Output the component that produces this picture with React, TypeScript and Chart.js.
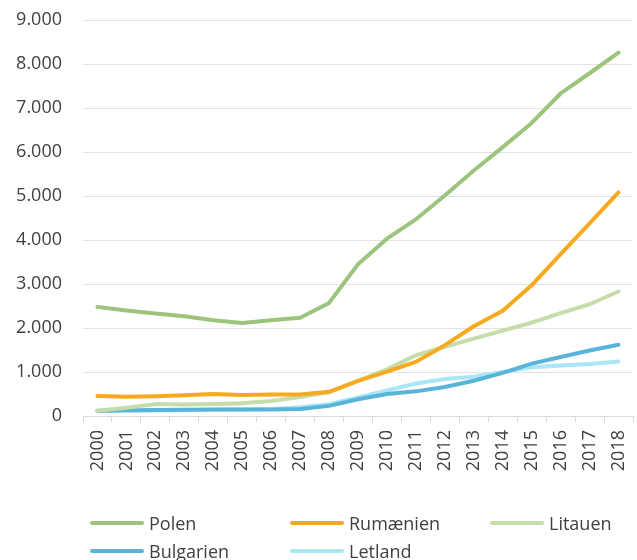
import React, { useEffect, useRef } from "react";
import { Chart, registerables } from "chart.js";

Chart.register(...registerables);

const years = ["2000","2001","2002","2003","2004","2005","2006","2007","2008","2009","2010","2011","2012","2013","2014","2015","2016","2017","2018"];
const polen = [2480, 2400, 2330, 2265, 2175, 2115, 2175, 2235, 2570, 3450, 4030, 4470, 5010, 5580, 6110, 6660, 7330, 7790, 8260];
const rumaenien = [455, 440, 450, 470, 500, 480, 490, 490, 550, 800, 1010, 1230, 1610, 2040, 2390, 2970, 3680, 4380, 5080];
const litauen = [120, 190, 270, 260, 270, 290, 340, 430, 540, 800, 1060, 1380, 1570, 1760, 1940, 2120, 2340, 2540, 2830];
const bulgarien = [120, 130, 135, 140, 145, 150, 150, 160, 230, 380, 500, 560, 660, 800, 980, 1190, 1340, 1490, 1620];
const letland = [110, 120, 125, 130, 140, 150, 160, 200, 270, 420, 580, 740, 840, 890, 1000, 1110, 1150, 1180, 1240];
const yTicks = [0, 1000, 2000, 3000, 4000, 5000, 6000, 7000, 8000, 9000];

const series = [
  { label: "Polen", data: polen, color: "#9dc47d" },
  { label: "Rumænien", data: rumaenien, color: "#f5aa1f" },
  { label: "Litauen", data: litauen, color: "#c6dcab" },
  { label: "Bulgarien", data: bulgarien, color: "#5ab4d9" },
  { label: "Letland", data: letland, color: "#a9e6f7" },
];

const FONT = "'Open Sans', 'Noto Sans', sans-serif";
const TEXT = "#404040";

function fmt(v: number): string {
  return String(v).replace(/\B(?=(\d{3})+(?!\d))/g, ".");
}

const legendPos = [
  { x: 90, y: 523 },
  { x: 290, y: 523 },
  { x: 490, y: 523 },
  { x: 90, y: 551 },
  { x: 290, y: 551 },
];

export default function App() {
  const ref = useRef<HTMLCanvasElement | null>(null);
  useEffect(() => {
    if (!ref.current) return;
    const chart = new Chart(ref.current, {
      type: "line",
      data: {
        labels: years,
        datasets: series.map((s) => ({
          label: s.label,
          data: s.data,
          borderColor: s.color,
          backgroundColor: s.color,
          borderWidth: 4,
          pointRadius: 0,
          tension: 0,
          borderCapStyle: "round",
          borderJoinStyle: "round",
          fill: false,
        })),
      },
      options: {
        animation: false,
        responsive: false,
        maintainAspectRatio: false,
        layout: { padding: { top: 20, right: 4, left: 0, bottom: 0 } },
        plugins: { legend: { display: false }, tooltip: { enabled: false } },
        scales: {
          x: {
            offset: true,
            grid: {
              offset: true,
              drawOnChartArea: false,
              drawTicks: true,
              tickLength: 6,
              color: "#d9d9d9",
              lineWidth: 1,
            },
            border: { display: true, color: "#d9d9d9", width: 1 },
            ticks: {
              autoSkip: false,
              minRotation: 90,
              maxRotation: 90,
              padding: 8,
              color: TEXT,
              font: { family: FONT, size: 18 },
            },
            afterFit: (scale: any) => {
              scale.height = 144;
              scale.paddingLeft = 0;
              scale.paddingRight = 0;
            },
          },
          y: {
            min: 0,
            max: 9000,
            afterBuildTicks: (scale: any) => {
              scale.ticks = yTicks.map((v) => ({ value: v }));
            },
            grid: { color: "#e3e3e3", lineWidth: 1, drawTicks: false },
            border: { display: false },
            ticks: {
              padding: 21,
              color: TEXT,
              font: { family: FONT, size: 18 },
              callback: (v: any) => fmt(Number(v)),
            },
            afterFit: (scale: any) => {
              scale.width = 83;
              scale.paddingTop = 0;
              scale.paddingBottom = 0;
            },
          },
        },
      },
    });
    return () => chart.destroy();
  }, []);

  return (
    <div style={{ position: "fixed", left: 0, top: 0, width: 637, height: 560, background: "#fff", overflow: "hidden" }}>
      <canvas ref={ref} width={637} height={560} style={{ position: "absolute", left: 0, top: 0, width: 637, height: 560 }} />
      {series.map((s, i) => (
        <div
          key={s.label}
          style={{
            position: "absolute",
            left: legendPos[i].x,
            top: legendPos[i].y - 13,
            height: 26,
            display: "flex",
            alignItems: "center",
            fontFamily: FONT,
            fontSize: 18,
            color: TEXT,
            whiteSpace: "nowrap",
          }}
        >
          <span style={{ display: "inline-block", width: 54, height: 4, borderRadius: 2, background: s.color, marginRight: 5 }} />
          <span>{s.label}</span>
        </div>
      ))}
    </div>
  );
}
